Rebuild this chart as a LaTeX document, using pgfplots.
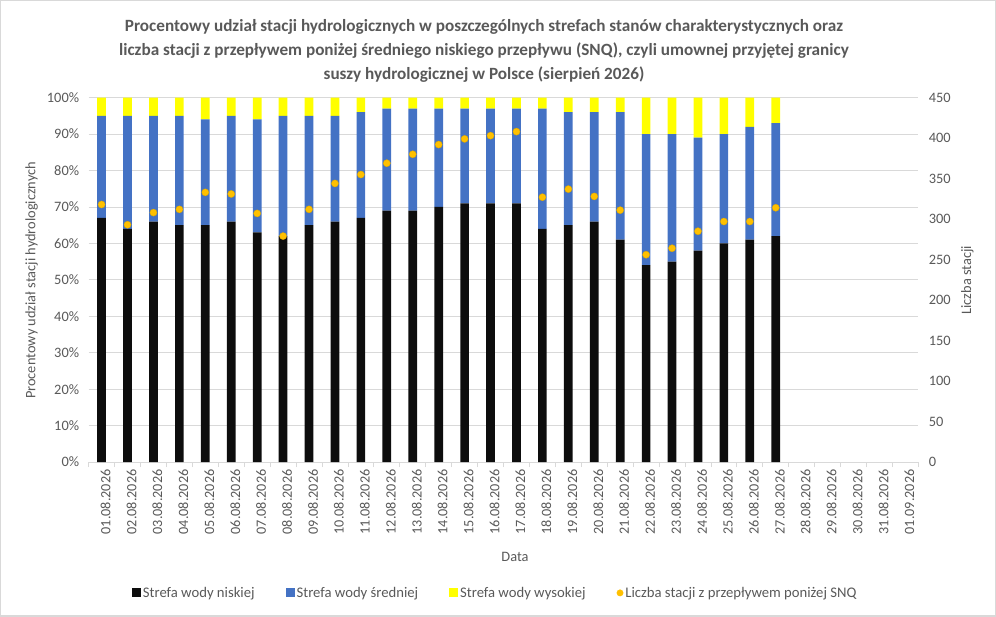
\documentclass[border=0pt]{standalone}
\usepackage{fontspec}
\setmainfont{Carlito}
\usepackage{pgfplots}
\pgfplotsset{compat=1.18}
\definecolor{cblack}{HTML}{0D0D0D}
\definecolor{cblue}{HTML}{4472C4}
\definecolor{cyellow}{HTML}{FFFF00}
\definecolor{corange}{HTML}{FFC000}
\definecolor{ctext}{HTML}{595959}
\definecolor{cgrid}{HTML}{D9D9D9}
\begin{document}
\begin{tikzpicture}
\path[use as bounding box, draw=cgrid, line width=1.5pt] (0pt,0pt) rectangle (996pt,616pt);
\begin{axis}[
  at={(88pt,154pt)}, anchor=south west, width=831pt, height=365pt, scale only axis,
  xmin=-0.5, xmax=31.5, ymin=0, ymax=100,
  ybar stacked, bar width=8.7pt,
  axis x line*=bottom, axis y line*=left,
  y axis line style={draw=none},
  x axis line style={draw=cgrid, line width=0.8pt, -},
  xtick={0,...,31},
  xticklabels={01.08.2026,02.08.2026,03.08.2026,04.08.2026,05.08.2026,06.08.2026,07.08.2026,08.08.2026,09.08.2026,10.08.2026,11.08.2026,12.08.2026,13.08.2026,14.08.2026,15.08.2026,16.08.2026,17.08.2026,18.08.2026,19.08.2026,20.08.2026,21.08.2026,22.08.2026,23.08.2026,24.08.2026,25.08.2026,26.08.2026,27.08.2026,28.08.2026,29.08.2026,30.08.2026,31.08.2026,01.09.2026},
  major x tick style={draw=none},
  minor xtick={-0.5,0.5,...,31.5},
  minor x tick style={draw=cgrid, line width=0.8pt},
  tick align=outside, minor tick length=5pt, major tick length=4pt,
  x tick label style={rotate=90, anchor=east, font=\fontsize{14.2}{16}\selectfont, text=ctext, yshift=-4pt},
  ytick={0,10,...,100}, yticklabel={\pgfmathprintnumber{\tick}\%},
  /pgf/number format/assume math mode=true,
  y tick label style={font=\fontsize{14.4}{16}\selectfont, text=ctext, xshift=-2pt},
  y tick style={draw=none},
  ymajorgrids, grid style={cgrid, line width=0.8pt},
  legend columns=-1,
  legend style={at={(axis description cs:0.49,-0.359)}, anchor=center, draw=none, fill=none,
    font=\fontsize{14.7}{16}\selectfont, text=ctext,
    /tikz/every even column/.append style={column sep=29pt}},
  legend image code/.code={\fill[#1] (2pt,-4.5pt) rectangle (11pt,4.5pt);},
]
\addplot[fill=cblack, draw=none] coordinates {(0,67) (1,64) (2,66) (3,65) (4,65) (5,66) (6,63) (7,62) (8,65) (9,66) (10,67) (11,69) (12,69) (13,70) (14,71) (15,71) (16,71) (17,64) (18,65) (19,66) (20,61) (21,54) (22,55) (23,58) (24,60) (25,61) (26,62)};
\addlegendentry{Strefa wody niskiej}
\addplot[fill=cblue, draw=none] coordinates {(0,28) (1,31) (2,29) (3,30) (4,29) (5,29) (6,31) (7,33) (8,30) (9,29) (10,29) (11,28) (12,28) (13,27) (14,26) (15,26) (16,26) (17,33) (18,31) (19,30) (20,35) (21,36) (22,35) (23,31) (24,30) (25,31) (26,31)};
\addlegendentry{Strefa wody średniej}
\addplot[fill=cyellow, draw=none] coordinates {(0,5) (1,5) (2,5) (3,5) (4,6) (5,5) (6,6) (7,5) (8,5) (9,5) (10,4) (11,3) (12,3) (13,3) (14,3) (15,3) (16,3) (17,3) (18,4) (19,4) (20,4) (21,10) (22,10) (23,11) (24,10) (25,8) (26,7)};
\addlegendentry{Strefa wody wysokiej}
\addlegendimage{legend image code/.code={\fill[corange] (7pt,0pt) circle (3.2pt);}}
\addlegendentry{Liczba stacji z przepływem poniżej SNQ}
\end{axis}
\begin{axis}[
  at={(88pt,154pt)}, anchor=south west, width=831pt, height=365pt, scale only axis,
  xmin=-0.5, xmax=31.5, ymin=0, ymax=450,
  axis x line=none, axis y line*=right,
  y axis line style={draw=none},
  ytick={0,50,...,450}, y tick style={draw=none},
  y tick label style={font=\fontsize{14.4}{16}\selectfont, text=ctext, xshift=7pt},
  /pgf/number format/assume math mode=true,
]
\addplot[only marks, mark=*, mark size=3.6pt, mark options={fill=corange, draw=corange!85!black, line width=0.3pt}] coordinates {(0,318) (1,293) (2,308) (3,312) (4,333) (5,331) (6,307) (7,279) (8,312) (9,344) (10,355) (11,369) (12,380) (13,392) (14,399) (15,403) (16,408) (17,327) (18,337) (19,328) (20,311) (21,256) (22,264) (23,285) (24,297) (25,297) (26,314)};
\end{axis}
\node[text=ctext, font=\bfseries\fontsize{17.2}{24}\selectfont, align=center] at (484pt,566pt) {Procentowy udział stacji hydrologicznych w poszczególnych strefach stanów charakterystycznych oraz\\liczba stacji z przepływem poniżej średniego niskiego przepływu (SNQ), czyli umownej przyjętej granicy\\suszy hydrologicznej w Polsce (sierpień 2026)};
\node[text=ctext, font=\fontsize{14.4}{16}\selectfont, rotate=90] at (31pt,336pt) {Procentowy udział stacji hydrologicznych};
\node[text=ctext, font=\fontsize{14.4}{16}\selectfont, rotate=90] at (968pt,336pt) {Liczba stacji};
\node[text=ctext, font=\fontsize{14.4}{16}\selectfont] at (515pt,59pt) {Data};
\end{tikzpicture}
\end{document}
